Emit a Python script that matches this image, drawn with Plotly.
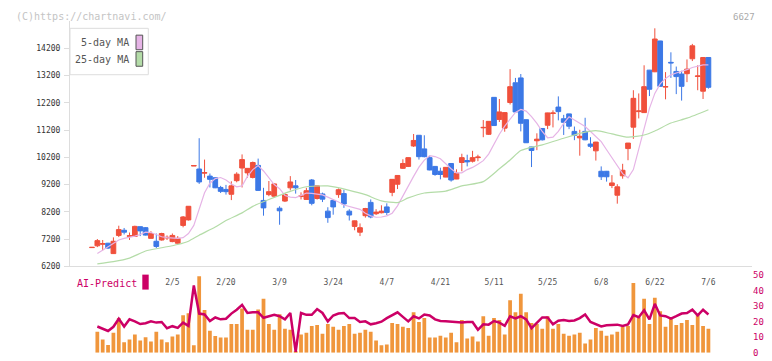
import plotly.graph_objects as go

# ---------------- data ----------------
W, H = 772, 361
date_idx = [15, 25, 35, 45, 55, 65, 75, 85, 95, 105, 115]
date_labels = ["2/5", "2/20", "3/9", "3/24", "4/7", "4/21", "5/11", "5/25", "6/8", "6/22", "7/6"]
price_ticks = [6200, 7200, 8200, 9200, 10200, 11200, 12200, 13200, 14200]
price_labels = ["6200", "7200", "8200", "9200", "10200", "11200", "12200", "13200", "14200"]
ai_ticks = [0, 10, 20, 30, 40, 50]

opens = [6885, 6951, 7010, 7046, 6665, 7332, 7522, 7300, 7296, 7653, 7618, 7225, 7118, 7165, 7240, 7106,
         7046, 7701, 7903, 9880, 9772, 9620, 9511, 9451, 9094, 9022, 8844, 9344, 9808, 9630, 9463, 9904,
         8618, 8832, 8773, 8332, 8594, 9082, 9154, 8760, 8654, 9368, 8689, 8856, 8225, 8618, 8832, 8868,
         8225, 7665, 7451, 8058, 8546, 8130, 8166, 8380, 8915, 9213, 9797, 9868, 10618, 11011, 10511, 10190,
         9868, 9690, 9475, 9975, 9404, 10011, 10083, 10059, 10190, 11285, 11047, 12404, 11594, 11273, 12214, 12940,
         13118, 11583, 10583, 10809, 11261, 11380, 11810, 12047, 11618, 11797, 11154, 10916, 11154, 10690, 10440, 9689,
         9689, 9166, 8809, 9523, 10523, 11309, 11880, 11844, 13404, 13344, 14475, 12780, 13690, 13356, 13261, 13273,
         13821, 13170, 12630, 13868]
highs = [6900, 7201, 7165, 7060, 7261, 7689, 7606, 7439, 7690, 7660, 7640, 7487, 7403, 7430, 7332, 7403,
         7308, 8046, 8410, 9900, 10903, 10118, 9606, 9460, 9153, 9189, 9320, 9653, 10308, 9800, 10046, 10154,
         9082, 9332, 9240, 8404, 8892, 9511, 9368, 8915, 9082, 9404, 9160, 8904, 8368, 8665, 9058, 9011,
         8296, 7880, 7773, 8344, 8654, 8296, 8439, 8511, 9400, 9545, 10130, 10200, 11059, 11020, 11011, 10261,
         9880, 9821, 9840, 9980, 9761, 10333, 10297, 10440, 10297, 11571, 11530, 12410, 12344, 11850, 13440, 13118,
         13261, 11590, 10590, 11083, 11270, 11840, 11928, 12440, 11761, 11800, 11332, 11213, 11654, 10940, 10770, 9868,
         9700, 9547, 9213, 9963, 10730, 12666, 12547, 13582, 13410, 14940, 14480, 13332, 14059, 13535, 13380, 13797,
         14368, 13582, 13870, 13870]
lows = [6880, 6903, 6784, 6832, 6650, 7272, 7368, 7165, 7290, 7308, 7330, 7220, 6868, 7140, 7165, 7082,
        7040, 7630, 7880, 9880, 9225, 9451, 9094, 9070, 8891, 8832, 8630, 9284, 9094, 9451, 9427, 8980,
        8058, 8773, 8713, 7725, 8558, 8987, 8868, 8654, 8650, 8439, 8650, 8558, 7796, 8094, 8713, 8344,
        7880, 7522, 7308, 7987, 7963, 8082, 8142, 8082, 8773, 9035, 9773, 9844, 10583, 10118, 10200, 9725,
        9523, 9392, 9470, 9309, 9400, 9690, 9868, 10011, 10059, 10940, 11023, 11360, 11499, 11142, 12142, 11850,
        11154, 10730, 9844, 10464, 10820, 11237, 11300, 11559, 11023, 11237, 10832, 10261, 10830, 10547, 10082, 9368,
        9309, 9071, 8499, 9416, 10094, 10880, 11630, 11830, 12451, 13330, 12800, 12332, 13118, 12523, 12285, 12963,
        13737, 12666, 12344, 12725]
closes = [6895, 7141, 7030, 6868, 7118, 7546, 7451, 7320, 7665, 7499, 7344, 7403, 6927, 7403, 7260, 7332,
          7225, 8011, 8403, 9900, 9296, 9640, 9392, 9082, 8951, 8939, 9153, 9582, 10118, 9796, 10011, 8987,
          8344, 8939, 9225, 8237, 8832, 9296, 9082, 8780, 8975, 8511, 9154, 8665, 7987, 8380, 9011, 8487,
          8082, 7868, 7618, 8320, 8011, 8189, 8225, 8177, 9392, 9535, 9975, 10190, 10821, 10225, 10225, 9737,
          9571, 9571, 9833, 9368, 9618, 10190, 10035, 10190, 10210, 11300, 11523, 11368, 11868, 11844, 12797, 11868,
          11452, 10737, 10452, 10868, 10844, 11833, 11830, 11880, 11487, 11344, 11011, 10975, 10844, 10606, 10761, 9487,
          9487, 9261, 9118, 9725, 10725, 12368, 11904, 12797, 12701, 14547, 12809, 12800, 13670, 13166, 12809, 13440,
          14297, 13190, 13868, 12773]

ma5 = [6665, 6784, 6903, 7046, 7165, 7225, 7260, 7308, 7368, 7451, 7439, 7368, 7284, 7249, 7225, 7225,
       7249, 7400, 7700, 8300, 8900, 9250, 9420, 9460, 9368, 9225, 9120, 9153, 9500, 9750, 9900, 9700,
       9430, 9200, 9050, 8800, 8740, 8720, 8800, 8890, 8880, 8840, 8820, 8740, 8660, 8560, 8450, 8400,
       8340, 8290, 8150, 8050, 8000, 8010, 8050, 8150, 8420, 8800, 9130, 9500, 9840, 10100, 10260, 10230,
       10150, 9950, 9780, 9630, 9630, 9750, 9830, 9950, 10080, 10320, 10700, 11050, 11350, 11600, 11850, 11960,
       11900, 11700, 11450, 11150, 10920, 10940, 11154, 11450, 11690, 11570, 11450, 11332, 11150, 10950, 10780, 10480,
       10200, 9900, 9600, 9450, 9750, 10500, 11300, 12000, 12550, 12900, 13100, 13230, 13300, 13356, 13420, 13500,
       13540, 13594, 13600]
ma25_idx = [1, 4, 7, 10, 13, 16, 18, 20, 23, 25, 28, 30, 33, 37, 40, 44, 48, 51, 54, 57, 59, 62, 66, 69,
            73, 76, 78, 80, 84, 88, 91, 94, 97, 100, 103, 105, 108, 111, 115]
ma25 = [6290, 6370, 6500, 6760, 6880, 7000, 7120, 7340, 7640, 7880, 8160, 8400, 8650, 8950, 9120, 9150,
        8990, 8830, 8600, 8540, 8710, 8890, 8960, 9150, 9310, 9780, 10100, 10450, 10660, 10900, 11080, 11180,
        11060, 10940, 11020, 11170, 11460, 11640, 11950]

vol = [13.5, 8.5, 5, 12.9, 22.3, 6.7, 8.5, 11.7, 7.9, 10, 7.3, 13.5, 8.5, 6.7, 10.4, 11.7, 24.2, 25.4, 4.8,
       49.2, 27.5, 14.2, 10.8, 9.8, 9.8, 18.5, 18.5, 28.5, 14.8, 14.8, 27.9, 34.8, 18.5, 14.8, 24.8, 15.4,
       14.8, 1, 11.7, 12.9, 17.3, 17.9, 12.3, 18.5, 16.7, 14.8, 17.3, 18.5, 12.3, 12.9, 14.8, 13.5, 7.9,
       4.8, 5.4, 19.2, 18.5, 16.7, 16, 26, 19.8, 22.3, 9.8, 9.8, 11, 9.8, 12.9, 6.7, 21, 9.2, 10.4, 7.3,
       23.5, 11, 22.3, 21, 11.7, 33.8, 26, 37.9, 26, 19.2, 18.5, 15.4, 23.5, 15.4, 18.5, 12.3, 11, 11.7,
       12.9, 6, 8.5, 16, 14.2, 11, 11.7, 13.5, 16.7, 17.3, 44.8, 22.9, 34.8, 18.5, 35.4, 26.7, 16.7, 22.3,
       17.9, 19.2, 21, 17.9, 24.8, 17.3, 15.4]
ai_pred = [16.9, 15.6, 14, 16.7, 21.9, 16.9, 21.5, 20.2, 18.5, 19, 20.2, 19.4, 19.8, 15.8, 17.1, 16, 19.4,
           17.3, 43.3, 25.2, 24.6, 20.4, 22.7, 21.5, 21.9, 25.2, 27.7, 30.8, 25.6, 26, 26, 22.5, 23.5, 24.4,
           23.5, 21.5, 25.6, 0.6, 25.6, 24.4, 24.4, 28.1, 25.6, 20.2, 24, 25.2, 25.6, 22.3, 22.3, 19.8, 20.2,
           18.3, 19, 20, 22.3, 24, 26, 23.1, 20.2, 23.5, 22.1, 24.6, 24, 21.5, 20.4, 20.2, 19.8, 19.8, 19.4,
           19.8, 19.8, 14.8, 18.3, 18.1, 20.4, 19.4, 17.3, 23.5, 22.1, 23.5, 21.5, 15.8, 19.4, 22.7, 22.7,
           18.3, 20.6, 21, 20.4, 20.8, 22.3, 24.6, 19.8, 18.5, 16.9, 17.7, 17.7, 18.1, 17.3, 18.3, 24.2, 22.9,
           27.3, 21.5, 31.5, 24, 23.5, 21.9, 23.5, 25.2, 25.6, 27.7, 24, 27.7, 24.6]

# ---------------- styles ----------------
RED, BLUE = "#f0503c", "#3c78e6"
PINK, GREEN = "#e6b4e6", "#b4dca8"
CRIMSON, ORANGE = "#cc0066", "#f0963c"
GRID = "#dddddd"
MONO = "DejaVu Sans Mono"

cidx = list(range(len(closes)))
ma5_idx = list(range(1, len(ma5) + 1))
vidx = list(range(1, len(vol) + 1))


def px(x):
    return x / W


def py(y):
    return 1 - y / H


fig = go.Figure()
fig.add_trace(go.Candlestick(
    x=cidx, open=opens, high=highs, low=lows, close=closes,
    increasing=dict(line=dict(color=RED, width=1), fillcolor=RED),
    decreasing=dict(line=dict(color=BLUE, width=1), fillcolor=BLUE),
    whiskerwidth=0, xaxis="x", yaxis="y", hoverinfo="skip"))
fig.add_trace(go.Scatter(x=ma5_idx, y=ma5, mode="lines", line=dict(color=PINK, width=1.2),
                         xaxis="x", yaxis="y", hoverinfo="skip"))
fig.add_trace(go.Scatter(x=ma25_idx, y=ma25, mode="lines",
                         line=dict(color=GREEN, width=1.2, shape="spline", smoothing=0.6),
                         xaxis="x", yaxis="y", hoverinfo="skip"))
fig.add_trace(go.Bar(x=vidx, y=vol, marker=dict(color=ORANGE, line=dict(width=0)),
                     xaxis="x", yaxis="y2", hoverinfo="skip"))
fig.add_trace(go.Scatter(x=vidx, y=ai_pred, mode="lines", line=dict(color=CRIMSON, width=2.5),
                         xaxis="x", yaxis="y2", hoverinfo="skip"))

xdom = [px(70), px(752)]
xr = [-4.1, 123.13]
fig.update_layout(
    width=W, height=H, margin=dict(l=0, r=0, t=0, b=0),
    paper_bgcolor="white", plot_bgcolor="white", showlegend=False,
    boxgap=0.12, boxgroupgap=0, bargap=0.3,
    xaxis=dict(domain=xdom, range=xr, anchor="y", tickvals=date_idx, ticktext=date_labels,
               ticks="", showline=True, linecolor=GRID, linewidth=1, showgrid=False, zeroline=False,
               tickfont=dict(family=MONO, size=8, color="#555555"), ticklabelstandoff=8,
               rangeslider=dict(visible=False), fixedrange=True),
    xaxis3=dict(domain=xdom, range=[0, 11], overlaying="x", anchor="y", tickvals=list(range(12)),
                ticks="outside", ticklen=5, tickcolor=GRID, showticklabels=False, showline=False,
                showgrid=False, zeroline=False),
    xaxis4=dict(domain=xdom, range=[0, 11], overlaying="x", anchor="y", tickvals=list(range(12)),
                ticks="inside", ticklen=3, tickcolor=GRID, showticklabels=False, showline=False,
                showgrid=False, zeroline=False),
    yaxis=dict(domain=[py(268.7), py(16.7)], range=[6200, 15200], anchor="x", tickvals=price_ticks,
               ticktext=price_labels,
               ticks="outside", ticklen=5, tickcolor=GRID, showline=True, linecolor=GRID, linewidth=1,
               showgrid=False, zeroline=False, tickfont=dict(family=MONO, size=8, color="#333333"),
               ticklabelstandoff=2),
    yaxis2=dict(domain=[py(357.7), py(277.7)], range=[0, 50], anchor="x", side="right", tickvals=ai_ticks,
                ticks="", showline=False, showgrid=False, zeroline=False,
                tickfont=dict(family=MONO, size=9, color=CRIMSON)),
)

shapes = [
    dict(type="rect", xref="paper", yref="paper", x0=px(70), x1=px(148.3), y0=py(71.7), y1=py(24),
         line=dict(color=GRID, width=1), fillcolor="white", layer="above"),
    dict(type="rect", xref="paper", yref="paper", x0=px(136), x1=px(142.7), y0=py(46), y1=py(31),
         line=dict(color="#555555", width=1), fillcolor=PINK, layer="above"),
    dict(type="rect", xref="paper", yref="paper", x0=px(136), x1=px(142.7), y0=py(63), y1=py(48),
         line=dict(color="#555555", width=1), fillcolor=GREEN, layer="above"),
    dict(type="rect", xref="paper", yref="paper", x0=px(142.3), x1=px(148.7), y0=py(292.7), y1=py(277.3),
         line=dict(width=0), fillcolor=CRIMSON, layer="above"),
]
annotations = [
    dict(text="(C)https://chartnavi.com/", x=px(14), y=py(12), xref="paper", yref="paper",
         xanchor="left", yanchor="middle", showarrow=False, font=dict(family=MONO, size=10, color="#c4c4c4")),
    dict(text="6627", x=px(757), y=py(12), xref="paper", yref="paper",
         xanchor="right", yanchor="middle", showarrow=False, font=dict(family=MONO, size=9, color="#aaaaaa")),
    dict(text="5-day MA", x=px(131), y=py(39), xref="paper", yref="paper",
         xanchor="right", yanchor="middle", showarrow=False, font=dict(family=MONO, size=10, color="#555555")),
    dict(text="25-day MA", x=px(131), y=py(56), xref="paper", yref="paper",
         xanchor="right", yanchor="middle", showarrow=False, font=dict(family=MONO, size=10, color="#555555")),
    dict(text="AI-Predict", x=px(75), y=py(286), xref="paper", yref="paper",
         xanchor="left", yanchor="middle", showarrow=False, font=dict(family=MONO, size=10, color=CRIMSON)),
]
fig.update_layout(shapes=shapes, annotations=annotations)

fig.write_html("out.html")
